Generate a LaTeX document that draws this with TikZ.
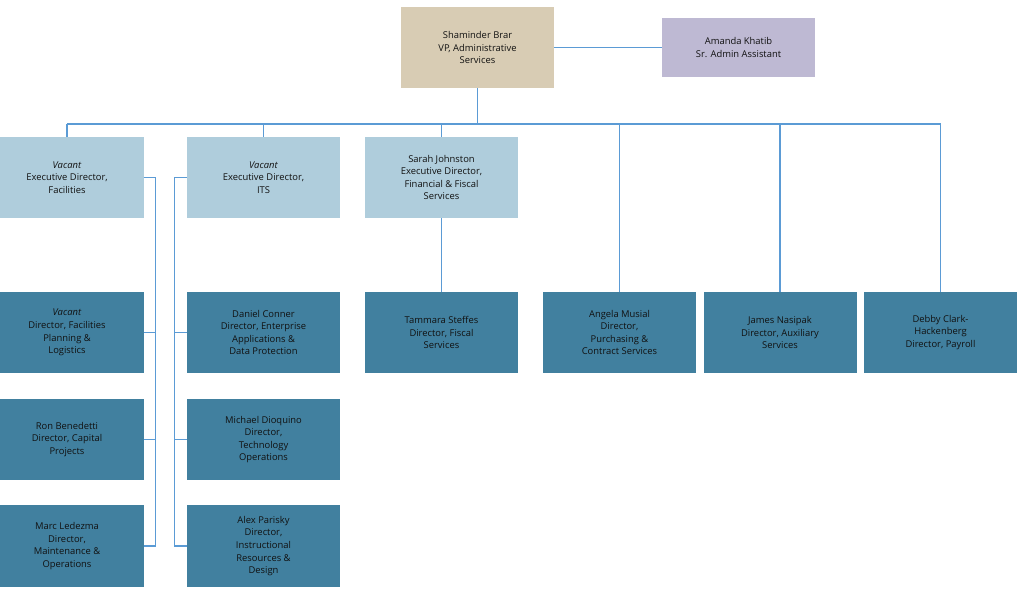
\documentclass[tikz,border=0pt]{standalone}
\usepackage{fontspec}
\setmainfont{Open Sans}
\definecolor{tanc}{HTML}{D8CCB4}
\definecolor{lavc}{HTML}{BEB9D3}
\definecolor{lbluec}{HTML}{AFCDDC}
\definecolor{tealc}{HTML}{41809F}
\definecolor{linec}{HTML}{5B9BD5}
\definecolor{txtc}{HTML}{111111}
\tikzset{
  box/.style={inner sep=0pt, minimum width=153pt, minimum height=81pt, align=center,
    text=txtc, font=\fontsize{9.4}{12.6}\selectfont},
  topbox/.style={box, fill=tanc},
  asstbox/.style={box, fill=lavc, minimum height=59pt},
  execbox/.style={box, fill=lbluec},
  dirbox/.style={box, fill=tealc},
  conn/.style={draw=linec, line width=1.2pt},
}
\begin{document}
\begin{tikzpicture}[x=1pt,y=-1pt]
\clip (0,0) rectangle (1019,599);
\fill[white] (0,0) rectangle (1019,599);
\node[topbox] (vp) at (477.5,47.5) {Shaminder Brar\\VP, Administrative\\Services};
\node[asstbox] (amanda) at (738.5,47.5) {Amanda Khatib\\Sr. Admin Assistant};
\node[execbox] (fac) at (67,177.5) {\textit{Vacant}\\Executive Director,\\Facilities};
\node[execbox] (its) at (263.5,177.5) {\textit{Vacant}\\Executive Director,\\ITS};
\node[execbox] (sarah) at (441.5,177.5) {Sarah Johnston\\Executive Director,\\Financial \& Fiscal\\Services};
\node[dirbox] (fac1) at (67,332.5) {\textit{Vacant}\\Director, Facilities\\Planning \&\\Logistics};
\node[dirbox] (fac2) at (67,439.5) {Ron Benedetti\\Director, Capital\\Projects};
\node[dirbox, minimum height=82pt] (fac3) at (67,546) {Marc Ledezma\\Director,\\Maintenance \&\\Operations};
\node[dirbox] (its1) at (263.5,332.5) {Daniel Conner\\Director, Enterprise\\Applications \&\\Data Protection};
\node[dirbox] (its2) at (263.5,439.5) {Michael Dioquino\\Director,\\Technology\\Operations};
\node[dirbox, minimum height=82pt] (its3) at (263.5,546) {Alex Parisky\\Director,\\Instructional\\Resources \&\\Design};
\node[dirbox] (tam) at (441.5,332.5) {Tammara Steffes\\Director, Fiscal\\Services};
\node[dirbox] (ang) at (619.5,332.5) {Angela Musial\\Director,\\Purchasing \&\\Contract Services};
\node[dirbox] (jam) at (780,332.5) {James Nasipak\\Director, Auxiliary\\Services};
\node[dirbox] (deb) at (940.5,332.5) {Debby Clark-\\Hackenberg\\Director, Payroll};
\coordinate (bus) at (477.5,124);
% connectors
\draw[conn] (vp.east) -- (amanda.west);
\draw[conn] (vp.south) -- (bus);
\draw[conn] (fac.north |- bus) -- (deb.north |- bus);
\foreach \n in {fac,its,sarah,ang,jam,deb}{
  \draw[conn] (\n.north |- bus) -- (\n.north);
}
\draw[conn] (sarah.south) -- (tam.north);
\draw[conn] (fac.east) -- ++(12,0) |- (fac3.east);
\draw[conn] (fac1.east) -- ++(12,0);
\draw[conn] (fac2.east) -- ++(12,0);
\draw[conn] (its.west) -- ++(-12,0) |- (its3.west);
\draw[conn] (its1.west) -- ++(-12,0);
\draw[conn] (its2.west) -- ++(-12,0);
\end{tikzpicture}
\end{document}
